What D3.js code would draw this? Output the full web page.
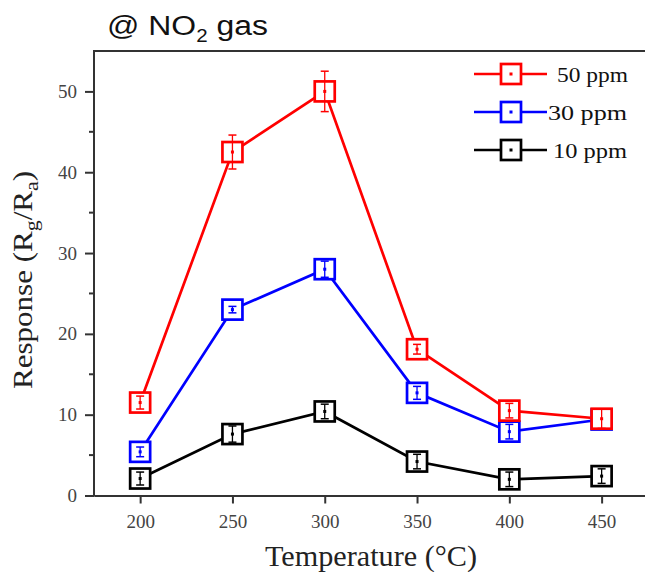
<!DOCTYPE html>
<html>
<head>
<meta charset="utf-8">
<script src="https://cdn.jsdelivr.net/npm/d3@7"></script>
<style>
  body { margin: 0; background: #fff; }
  svg { display: block; }
</style>
</head>
<body>
<svg width="645" height="572"></svg>
<script>
// chart values
let temperatures = [200, 250, 300, 350, 400, 450];
let resp50 = [11.5, 42.5, 50.0, 18.1, 10.5, 9.5];
let err50 = [0.8, 2.1, 2.5, 0.6, 0.9, 1.2];
let resp30 = [5.4, 23.0, 28.0, 12.7, 7.9, 9.4];
let err30 = [0.6, 0.4, 1.0, 0.8, 0.9, 0.9];
let resp10 = [2.1, 7.6, 10.4, 4.2, 2.0, 2.4];
let err10 = [0.8, 1.0, 0.9, 0.9, 0.9, 0.9];
let seriesNames = ["50 ppm", "30 ppm", "10 ppm"];
let seriesColors = ["#ff0000", "#0000ff", "#000000"];
let yTicks = [0, 10, 20, 30, 40, 50];
let yMinorTicks = [5, 15, 25, 35, 45];
let xTicks = [200, 250, 300, 350, 400, 450];

let svg = d3.select("svg");
let plotLeft = 94, plotRight = 645, plotTop = 51, plotBottom = 495.5;
let serif = "Liberation Serif, Times New Roman, serif";

let xScale = d3.scaleLinear().domain([175, 473.5]).range([plotLeft, plotRight]);
let yScale = d3.scaleLinear().domain([0, 55]).range([plotBottom, plotTop]);

let series = [
  { name: seriesNames[0], color: seriesColors[0], vals: resp50, errs: err50 },
  { name: seriesNames[1], color: seriesColors[1], vals: resp30, errs: err30 },
  { name: seriesNames[2], color: seriesColors[2], vals: resp10, errs: err10 }
];

//title (reference text is a bit stretched sideways)
let title = svg.append("text")
  .attr("transform", "translate(107,35) scale(1.14,1)")
  .attr("font-family", "Liberation Sans, Arial, sans-serif")
  .attr("font-size", 28)
  .attr("fill", "#111");
title.append("tspan").text("@ NO");
title.append("tspan").attr("font-size", 18).attr("dy", 7).text("2");
title.append("tspan").attr("dy", -7).text(" gas");

//axes
let axisColor = "#333";
let gx = svg.append("g").attr("transform", "translate(0," + plotBottom + ")")
  .call(d3.axisBottom(xScale).tickValues(xTicks).tickSize(8).tickPadding(11).tickSizeOuter(0));
let gy = svg.append("g").attr("transform", "translate(" + plotLeft + ",0)")
  .call(d3.axisLeft(yScale).tickValues(yTicks).tickSize(9).tickPadding(8).tickSizeOuter(0));
// minor y ticks
gy.selectAll(".minor").data(yMinorTicks).enter().append("line")
  .attr("class", "minor")
  .attr("x1", -5).attr("x2", 0)
  .attr("y1", d => yScale(d)).attr("y2", d => yScale(d))
  .attr("stroke", axisColor).attr("stroke-width", 2);
[gx, gy].forEach(function(g) {
  g.select(".domain").attr("stroke", axisColor).attr("stroke-width", 2);
  g.selectAll(".tick line").attr("stroke", axisColor).attr("stroke-width", 2);
  g.selectAll(".tick text")
    .attr("font-family", serif)
    .attr("font-size", 19).attr("fill", "#444");
});
// extend y axis line to the top frame, draw top frame
gy.select(".domain").attr("d", "M0," + (plotBottom + 1) + "V" + plotTop);
svg.append("line")
  .attr("x1", plotLeft - 1).attr("x2", plotRight).attr("y1", plotTop).attr("y2", plotTop)
  .attr("stroke", axisColor).attr("stroke-width", 2);

//axis titles
svg.append("text")
  .attr("x", 265).attr("y", 566)
  .attr("font-family", serif)
  .attr("font-size", 29).attr("fill", "#222")
  .attr("textLength", 212).attr("lengthAdjust", "spacingAndGlyphs")
  .text("Temperature (°C)");
let yt = svg.append("text")
  .attr("transform", "translate(32,280) rotate(-90) scale(1.15,1)")
  .attr("text-anchor", "middle")
  .attr("font-family", serif)
  .attr("font-size", 27).attr("fill", "#222");
yt.append("tspan").text("Response (R");
yt.append("tspan").attr("font-size", 19).attr("dy", 6).text("g");
yt.append("tspan").attr("dy", -6).text("/R");
yt.append("tspan").attr("font-size", 19).attr("dy", 6).text("a");
yt.append("tspan").attr("dy", -6).text(")");

//lines, markers and error bars
let line = d3.line().x(d => xScale(d.t)).y(d => yScale(d.v));
let box = 20;

series.slice().reverse().forEach(function(s) {
  let pts = temperatures.map((t, i) => ({ t: t, v: s.vals[i], e: s.errs[i] }));
  let g = svg.append("g");
  g.append("path")
    .datum(pts)
    .attr("d", line)
    .attr("fill", "none")
    .attr("stroke", s.color)
    .attr("stroke-width", 2.7);
  let m = g.selectAll(".pt").data(pts).enter().append("g")
    .attr("transform", d => "translate(" + xScale(d.t) + "," + yScale(d.v) + ")");
  m.append("rect")
    .attr("x", -box / 2).attr("y", -box / 2)
    .attr("width", box).attr("height", box)
    .attr("fill", "#fff")
    .attr("stroke", s.color).attr("stroke-width", 2.7);
  // error bars
  m.append("line")
    .attr("x1", 0).attr("x2", 0)
    .attr("y1", d => yScale(d.v + d.e) - yScale(d.v))
    .attr("y2", d => yScale(d.v - d.e) - yScale(d.v))
    .attr("stroke", s.color).attr("stroke-width", 1.3);
  m.append("line")
    .attr("x1", -4).attr("x2", 4)
    .attr("y1", d => yScale(d.v + d.e) - yScale(d.v))
    .attr("y2", d => yScale(d.v + d.e) - yScale(d.v))
    .attr("stroke", s.color).attr("stroke-width", 1.5);
  m.append("line")
    .attr("x1", -4).attr("x2", 4)
    .attr("y1", d => yScale(d.v - d.e) - yScale(d.v))
    .attr("y2", d => yScale(d.v - d.e) - yScale(d.v))
    .attr("stroke", s.color).attr("stroke-width", 1.5);
  m.append("rect")
    .attr("x", -1.5).attr("y", -1.5).attr("width", 3).attr("height", 3)
    .attr("fill", s.color);
});

//legend
let legend = svg.append("g");
let legendTextX = [557, 548, 553];
let legendTextW = [71, 79, 74];
series.forEach(function(s, i) {
  let ly = 74 + i * 38;
  legend.append("line")
    .attr("x1", 474).attr("x2", 547).attr("y1", ly).attr("y2", ly)
    .attr("stroke", s.color).attr("stroke-width", 2.7);
  legend.append("rect")
    .attr("x", 511 - box / 2).attr("y", ly - box / 2)
    .attr("width", box).attr("height", box)
    .attr("fill", "#fff").attr("stroke", s.color).attr("stroke-width", 2.7);
  legend.append("rect")
    .attr("x", 509.5).attr("y", ly - 1.5).attr("width", 3).attr("height", 3)
    .attr("fill", s.color);
  legend.append("text")
    .attr("x", legendTextX[i]).attr("y", ly + 8)
    .attr("font-family", serif)
    .attr("font-size", 20).attr("fill", "#111")
    .attr("textLength", legendTextW[i]).attr("lengthAdjust", "spacingAndGlyphs")
    .text(s.name);
});
</script>
</body>
</html>
